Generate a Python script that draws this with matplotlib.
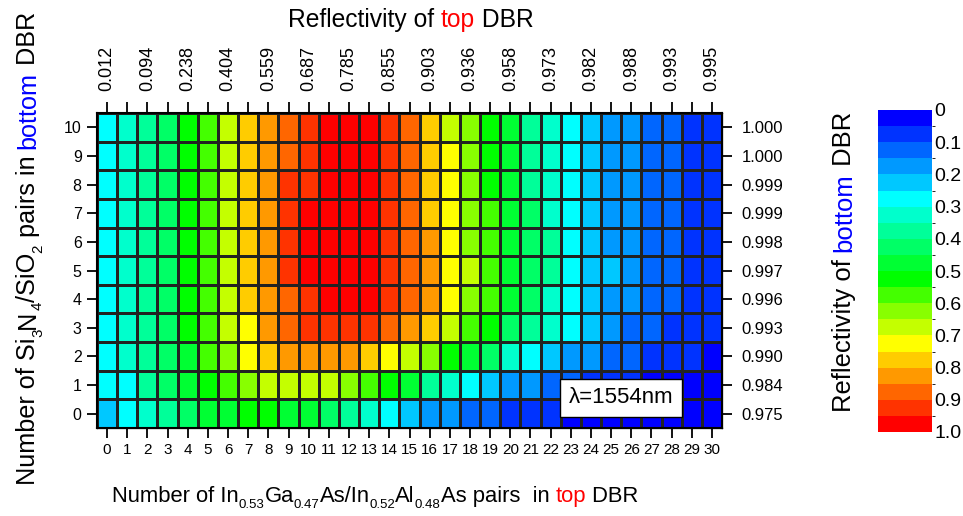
import numpy as np
import matplotlib
matplotlib.use('Agg')
import matplotlib.pyplot as plt
from matplotlib.colors import ListedColormap, BoundaryNorm

plt.rcParams['font.family'] = ['Liberation Sans', 'DejaVu Sans']

# 데이터: 상부 DBR 쌍 수 (x), 하부 DBR 쌍 수 (y)
top_pairs = list(range(31))
bottom_pairs = list(range(11))
top_refl = ['0.012', '0.094', '0.238', '0.404', '0.559', '0.687', '0.785', '0.855',
            '0.903', '0.936', '0.958', '0.973', '0.982', '0.988', '0.993', '0.995']
bottom_refl = ['0.975', '0.984', '0.990', '0.993', '0.996', '0.997',
               '0.998', '0.999', '0.999', '1.000', '1.000']

# 각 셀 값 (행 = 하부 쌍 수 0..10)
row0 = [0.23, 0.28, 0.33, 0.38, 0.43, 0.48, 0.48, 0.53, 0.53, 0.48, 0.48, 0.43, 0.38, 0.33, 0.28, 0.23,
        0.18, 0.18, 0.13, 0.13, 0.08, 0.08, 0.08, 0.03, 0.03, 0.03, 0.03, 0.03, 0.03, 0.03, 0.03]
row1 = [0.28, 0.28, 0.38, 0.43, 0.48, 0.53, 0.58, 0.63, 0.68, 0.68, 0.68, 0.68, 0.63, 0.58, 0.53, 0.48,
        0.38, 0.33, 0.28, 0.23, 0.18, 0.18, 0.13, 0.13, 0.08, 0.08, 0.08, 0.03, 0.03, 0.03, 0.03]
row2 = [0.28, 0.33, 0.38, 0.43, 0.48, 0.58, 0.63, 0.73, 0.78, 0.83, 0.83, 0.83, 0.83, 0.78, 0.73, 0.68,
        0.63, 0.53, 0.48, 0.43, 0.33, 0.28, 0.23, 0.18, 0.18, 0.13, 0.13, 0.08, 0.08, 0.08, 0.03]
row3 = [0.28, 0.33, 0.38, 0.43, 0.53, 0.58, 0.68, 0.73, 0.83, 0.88, 0.93, 0.93, 0.93, 0.93, 0.88, 0.83,
        0.78, 0.68, 0.58, 0.53, 0.43, 0.38, 0.33, 0.28, 0.23, 0.18, 0.13, 0.13, 0.08, 0.08, 0.08]
row4 = [0.28, 0.33, 0.38, 0.43, 0.53, 0.58, 0.68, 0.78, 0.83, 0.88, 0.93, 0.98, 0.98, 0.98, 0.93, 0.88,
        0.83, 0.73, 0.63, 0.58, 0.48, 0.43, 0.33, 0.28, 0.23, 0.18, 0.18, 0.13, 0.13, 0.08, 0.08]
row5 = [0.28, 0.33, 0.38, 0.43, 0.53, 0.58, 0.68, 0.78, 0.83, 0.93, 0.98, 0.98, 0.98, 0.98, 0.93, 0.88,
        0.83, 0.73, 0.68, 0.58, 0.48, 0.43, 0.38, 0.28, 0.23, 0.23, 0.18, 0.13, 0.13, 0.08, 0.08]
row6 = [0.28, 0.33, 0.38, 0.43, 0.53, 0.58, 0.68, 0.78, 0.83, 0.93, 0.98, 0.98, 0.98, 0.98, 0.93, 0.88,
        0.83, 0.73, 0.63, 0.58, 0.48, 0.43, 0.38, 0.28, 0.23, 0.18, 0.18, 0.13, 0.13, 0.08, 0.08]
row7 = [0.28, 0.33, 0.38, 0.43, 0.53, 0.58, 0.68, 0.78, 0.83, 0.93, 0.98, 0.98, 0.98, 0.98, 0.93, 0.88,
        0.78, 0.73, 0.63, 0.58, 0.48, 0.43, 0.33, 0.28, 0.23, 0.18, 0.18, 0.13, 0.13, 0.08, 0.08]
row8 = [0.28, 0.33, 0.38, 0.43, 0.53, 0.58, 0.68, 0.78, 0.83, 0.93, 0.93, 0.98, 0.98, 0.98, 0.93, 0.88,
        0.78, 0.73, 0.63, 0.53, 0.48, 0.38, 0.33, 0.28, 0.23, 0.18, 0.18, 0.13, 0.13, 0.08, 0.08]
row9 = [0.28, 0.33, 0.38, 0.43, 0.53, 0.58, 0.68, 0.78, 0.83, 0.88, 0.93, 0.98, 0.98, 0.98, 0.93, 0.88,
        0.78, 0.73, 0.63, 0.53, 0.48, 0.38, 0.33, 0.28, 0.23, 0.18, 0.18, 0.13, 0.13, 0.08, 0.08]
row10 = [0.28, 0.33, 0.38, 0.43, 0.53, 0.58, 0.68, 0.78, 0.83, 0.88, 0.93, 0.98, 0.98, 0.98, 0.93, 0.88,
         0.78, 0.68, 0.63, 0.53, 0.48, 0.38, 0.33, 0.28, 0.23, 0.18, 0.18, 0.13, 0.13, 0.08, 0.08]
values = np.array([row0, row1, row2, row3, row4, row5, row6, row7, row8, row9, row10])

# 20단계 컬러맵 (파랑 -> 빨강)
level_colors = ['#0000FF', '#0033FF', '#0066FF', '#0099FF', '#00C8FF',
                '#00FFFF', '#00FFCC', '#00FF99', '#00FF66', '#00FF33',
                '#00FF00', '#44FF00', '#88FF00', '#C4FF00', '#FFFF00',
                '#FFCC00', '#FF9900', '#FF6600', '#FF3300', '#FF0000']
cmap = ListedColormap(level_colors)
norm = BoundaryNorm(np.linspace(0, 1, 21), 20)

W, H = 963, 516
fig = plt.figure(figsize=(W / 100, H / 100), dpi=100)
ax = fig.add_axes([97 / W, 1 - 428 / H, 625 / W, 315 / H])

xe = np.arange(len(top_pairs) + 1) - 0.5
ye = np.arange(len(bottom_pairs) + 1) - 0.5
mesh = ax.pcolormesh(xe, ye, values, cmap=cmap, norm=norm,
                     edgecolors='#222222', linewidth=0.9)
ax.set_xlim(xe[0], xe[-1])
ax.set_ylim(ye[0], ye[-1])
for s in ax.spines.values():
    s.set_linewidth(1.5)

ax.set_xticks(top_pairs)
ax.set_xticklabels([str(v) for v in top_pairs], fontsize=11)
ax.set_yticks(bottom_pairs)
ax.set_yticklabels([str(v) for v in bottom_pairs], fontsize=11.5)
ax.tick_params(axis='both', direction='out', length=7, width=1.3, pad=4)

axt = ax.twiny()
axt.set_xlim(ax.get_xlim())
axt.set_xticks(top_pairs)
axt.set_xticklabels([top_refl[i // 2] if i % 2 == 0 else '' for i in top_pairs],
                    rotation=90, fontsize=13)
axt.tick_params(axis='x', direction='out', length=8, width=1.3, pad=8)

axr = ax.twinx()
axr.set_ylim(ax.get_ylim())
axr.set_yticks(bottom_pairs)
axr.set_yticklabels(bottom_refl, fontsize=12)
axr.tick_params(axis='y', direction='out', length=7, width=1.3, pad=7)

ax.text(25.5, 0.55, '\u03bb=1554nm', fontsize=16, ha='center', va='center', zorder=5,
        bbox=dict(boxstyle='square,pad=0.4', fc='white', ec='black', lw=1.0))

# 컬러바 (0이 위쪽)
cax = fig.add_axes([878 / W, 1 - 432 / H, 54 / W, 322 / H])
cb = fig.colorbar(mesh, cax=cax)
cb.outline.set_visible(False)
cax.invert_yaxis()
cb.set_ticks(np.linspace(0, 1, 11))
cb.set_ticklabels(['0'] + ['%.1f' % v for v in np.linspace(0.1, 1.0, 10)])
cax.tick_params(length=0, labelsize=14, pad=1.5)

# 여러 색 / 아래첨자 라벨
fig.canvas.draw()
renderer = fig.canvas.get_renderer()


def text_width(s, size):
    t = fig.text(0, 0, 'a' + s + 'a', fontsize=size)
    w = t.get_window_extent(renderer).width
    t.set_text('aa')
    w -= t.get_window_extent(renderer).width
    t.remove()
    return w


K, R, B = 'black', 'red', 'blue'
SUB = 0.6


def rich_text(cx, base, parts, length, rotation=0):
    # parts: (문자열, 색, 아래첨자 여부); 전체 길이가 length(px)가 되도록 크기 결정
    def measure(size):
        return [text_width(s, size * (SUB if sub else 1)) for s, c, sub in parts]
    size = 10 * length / sum(measure(10))
    widths = measure(size)
    pos = -sum(widths) / 2
    px_per_pt = 100 / 72
    for (s, c, sub), w in zip(parts, widths):
        fs = size * (SUB if sub else 1)
        drop = 0.28 * size * px_per_pt if sub else 0
        if rotation == 0:
            fig.text((cx + pos) / W, (base - drop) / H, s, color=c, fontsize=fs,
                     ha='left', va='baseline')
        else:
            fig.text((base + drop) / W, (cx + pos) / H, s, color=c, fontsize=fs, rotation=90,
                     ha='left', va='baseline', rotation_mode='anchor')
        pos += w


rich_text(411, H - 27, [('Reflectivity of ', K, 0), ('top', R, 0), (' DBR', K, 0)], 248)
rich_text(375, H - 502,
          [('Number of In', K, 0), ('0.53', K, 1), ('Ga', K, 0), ('0.47', K, 1),
           ('As/In', K, 0), ('0.52', K, 1), ('Al', K, 0), ('0.48', K, 1),
           ('As pairs  in ', K, 0), ('top', R, 0), (' DBR', K, 0)], 530)
rich_text(H - 248, 35,
          [('Number of Si', K, 0), ('3', K, 1), ('N', K, 0), ('4', K, 1), ('/SiO', K, 0),
           ('2', K, 1), (' pairs in ', K, 0), ('bottom', B, 0), (' DBR', K, 0)],
          474, rotation=90)
rich_text(H - 262, 851,
          [('Reflectivity of ', K, 0), ('bottom', B, 0), (' DBR', K, 0)], 300, rotation=90)

fig.savefig('out.png', dpi=100)
